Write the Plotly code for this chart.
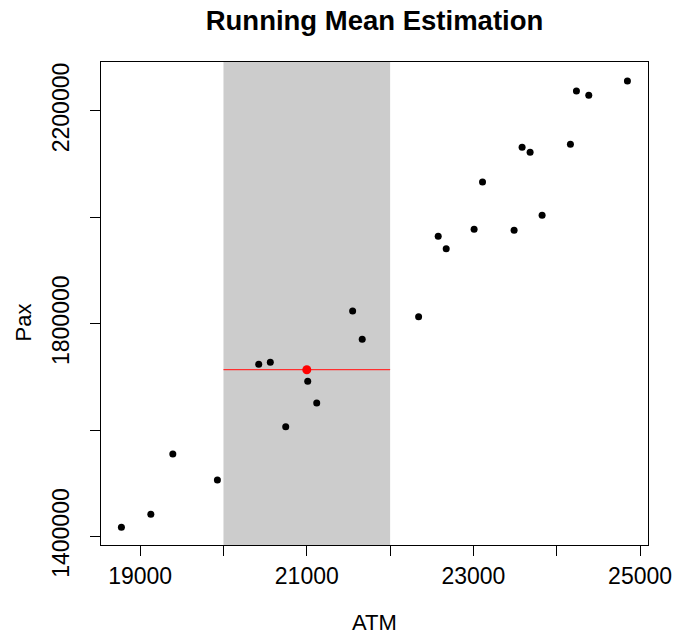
import plotly.graph_objects as go

# ---- data ----
atm = [18775, 19128, 19392, 19927, 20423, 20562, 21011, 21119, 20747, 21550,
       21665, 22342, 24848, 24236, 24384, 23584, 23680, 24164, 23109, 23824,
       23008, 23488, 22577, 22673]
pax = [1417600, 1441730, 1555075, 1506200, 1723684, 1727444, 1691729, 1650940,
       1606391, 1823872, 1770677, 1813158, 2256203, 2237406, 2229323, 2131579,
       2122180, 2137218, 2066353, 2003759, 1977444, 1975564, 1964286, 1940977]

window_lo = 20000
window_hi = 22000
window_center = 21000
window_mean = 1713534

x_ticks = [19000, 20000, 21000, 22000, 23000, 24000, 25000]
x_ticktext = ["19000", "", "21000", "", "23000", "", "25000"]
y_ticks = [1400000, 1600000, 1800000, 2000000, 2200000]
y_ticktext = ["1400000", "", "1800000", "", "2200000"]

title_text = "Running Mean Estimation"
x_title = "ATM"
y_title = "Pax"

FONT = "Liberation Sans, Arial, Helvetica, sans-serif"

fig = go.Figure()

fig.add_shape(type="rect", xref="x", yref="paper",
              x0=window_lo, x1=window_hi, y0=0, y1=1,
              fillcolor="#CCCCCC", line=dict(width=0), layer="below")

fig.add_trace(go.Scatter(x=atm, y=pax, mode="markers",
                         marker=dict(color="black", size=7),
                         hoverinfo="x+y", showlegend=False))

fig.add_trace(go.Scatter(x=[window_lo, window_hi], y=[window_mean, window_mean],
                         mode="lines", line=dict(color="#FF3030", width=1.2),
                         showlegend=False))

fig.add_trace(go.Scatter(x=[window_center], y=[window_mean], mode="markers",
                         marker=dict(color="#FF0000", size=9),
                         showlegend=False))

axis_common = dict(showgrid=False, zeroline=False, showline=True,
                   linecolor="black", linewidth=1.3, mirror=True,
                   ticks="outside", ticklen=10, tickwidth=1.2, tickcolor="black",
                   automargin=False,
                   tickfont=dict(family=FONT, size=23, color="black"))

fig.update_layout(
    width=673, height=634,
    margin=dict(l=101, r=25, t=62, b=89),
    paper_bgcolor="white", plot_bgcolor="white",
    font=dict(family=FONT, color="black"),
    title=dict(text="<b>" + title_text + "</b>", x=0.5, xref="paper",
               xanchor="center", y=1 - 20 / 634, yref="container",
               yanchor="middle", font=dict(family=FONT, size=27.5, color="black"),
               automargin=False),
    xaxis=dict(range=[18530, 25095], tickvals=x_ticks, ticktext=x_ticktext,
               **axis_common),
    yaxis=dict(range=[1384000, 2292000], tickvals=y_ticks, ticktext=y_ticktext,
               tickangle=-90, ticklabelstandoff=12, **axis_common),
    annotations=[
        dict(text=x_title, xref="paper", yref="paper", x=0.5, y=(545 - 622) / 483,
             xanchor="center", yanchor="middle", showarrow=False,
             font=dict(family=FONT, size=22, color="black")),
        dict(text=y_title, xref="paper", yref="paper", x=(22.5 - 101) / 547,
             y=(545 - 323) / 483,
             xanchor="center", yanchor="middle", textangle=-90, showarrow=False,
             font=dict(family=FONT, size=22, color="black")),
    ],
)

fig.write_html("out.html")
